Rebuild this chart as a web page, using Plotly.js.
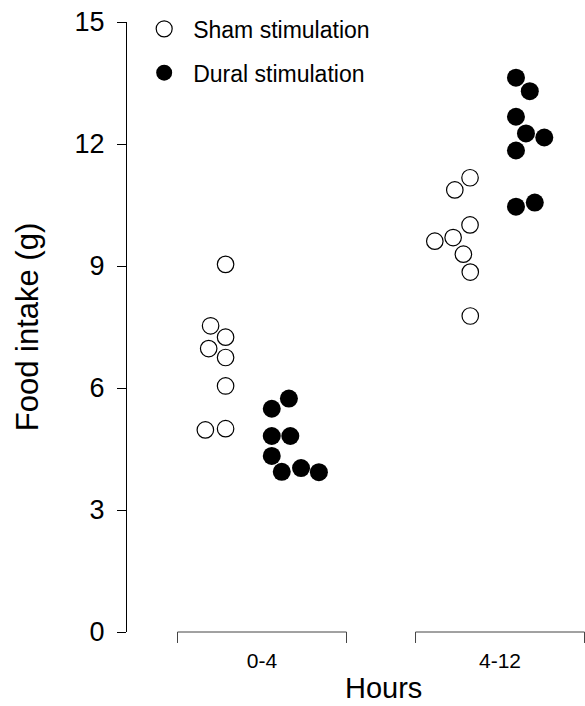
<!DOCTYPE html>
<html>
<head>
<meta charset="utf-8">
<script src="https://cdn.plot.ly/plotly-3.0.1.min.js"></script>
<style>html,body{margin:0;padding:0;background:#fff;}#chart{width:585px;height:706px;}</style>
</head>
<body>
<div id="chart"></div>
<script>
// ---- data ----
const groups = ["0-4", "4-12"];
const groupPos = [1, 2];

// Sham stimulation (open circles)
const shamGroup = [0,0,0,0,0,0,0,0, 1,1,1,1,1,1,1,1];
const shamValues = [9.04, 7.53, 7.25, 6.97, 6.75, 6.05, 4.97, 5.00,
                    11.17, 10.87, 10.01, 9.61, 9.70, 9.29, 8.85, 7.77];
const shamJitter = [-0.153, -0.216, -0.153, -0.224, -0.153, -0.153, -0.238, -0.153,
                    -0.126, -0.190, -0.126, -0.274, -0.197, -0.154, -0.125, -0.125];

// Dural stimulation (filled circles)
const duralGroup = [0,0,0,0,0,0,0,0, 1,1,1,1,1,1,1,1];
const duralValues = [5.74, 5.49, 4.82, 4.82, 4.33, 3.94, 4.03, 3.93,
                     13.63, 13.30, 12.67, 12.26, 12.16, 11.84, 10.46, 10.56];
const duralJitter = [0.113, 0.041, 0.041, 0.119, 0.041, 0.083, 0.164, 0.239,
                     0.067, 0.125, 0.067, 0.109, 0.186, 0.067, 0.067, 0.146];

const yTicks = [0, 3, 6, 9, 12, 15];
const xTitle = "Hours";
const yTitle = "Food intake (g)";

// ---- build ----
const FONT = "Liberation Sans, Arial, Helvetica, sans-serif";
const shamX = shamGroup.map((g, i) => groupPos[g] + shamJitter[i]);
const duralX = duralGroup.map((g, i) => groupPos[g] + duralJitter[i]);

const traces = [
  {
    type: "scatter", mode: "markers", name: "Sham stimulation",
    x: shamX, y: shamValues, legendgroup: "a",
    marker: {symbol: "circle", size: 16.5, color: "#ffffff", line: {color: "#000", width: 1.2}},
    cliponaxis: false
  },
  {
    type: "scatter", mode: "markers", name: "Dural stimulation",
    x: duralX, y: duralValues, legendgroup: "b",
    marker: {symbol: "circle", size: 18, color: "#000000", line: {color: "#000", width: 0}},
    cliponaxis: false
  }
];

const halfW = 0.355, bracketDrop = -0.018;
const shapes = [];
groupPos.forEach(p => {
  shapes.push({type: "path", xref: "x", yref: "paper",
    path: `M ${p - halfW} ${bracketDrop} L ${p - halfW} 0 L ${p + halfW} 0 L ${p + halfW} ${bracketDrop}`,
    line: {color: "#444", width: 1}});
});

const layout = {
  width: 585, height: 706,
  margin: {l: 126, r: 0, t: 22, b: 74},
  paper_bgcolor: "#fff", plot_bgcolor: "#fff",
  font: {family: FONT, color: "#000"},
  showlegend: true,
  legend: {
    x: 0.02, y: 1.024, xanchor: "left", yanchor: "top", yref: "paper",
    font: {family: FONT, size: 23, color: "#000"},
    itemwidth: 48, tracegroupgap: 11, bgcolor: "rgba(0,0,0,0)"
  },
  xaxis: {
    domain: [50 / 459, 1],
    range: [0.6387, 2.357],
    tickvals: groupPos, ticktext: groups,
    ticks: "", showline: false, showgrid: false, zeroline: false,
    tickfont: {family: FONT, size: 21, color: "#000"},
    ticklabelstandoff: 14
  },
  yaxis: {
    anchor: "free", position: 0,
    range: [0, 15], tickvals: yTicks,
    ticks: "outside", ticklen: 9, tickwidth: 1, tickcolor: "#000",
    showline: true, linecolor: "#000", linewidth: 1,
    showgrid: false, zeroline: false,
    tickfont: {family: FONT, size: 27, color: "#000"},
    ticklabelstandoff: 7,
    title: {text: yTitle, font: {family: FONT, size: 31, color: "#000"}, standoff: 25}
  },
  annotations: [{
    text: xTitle, xref: "paper", yref: "paper",
    x: 0.56, y: -0.0918, xanchor: "center", yanchor: "middle",
    showarrow: false, font: {family: FONT, size: 29, color: "#000"}
  }],
  shapes: shapes
};

Plotly.newPlot("chart", traces, layout, {staticPlot: true, displayModeBar: false});
</script>
</body>
</html>
